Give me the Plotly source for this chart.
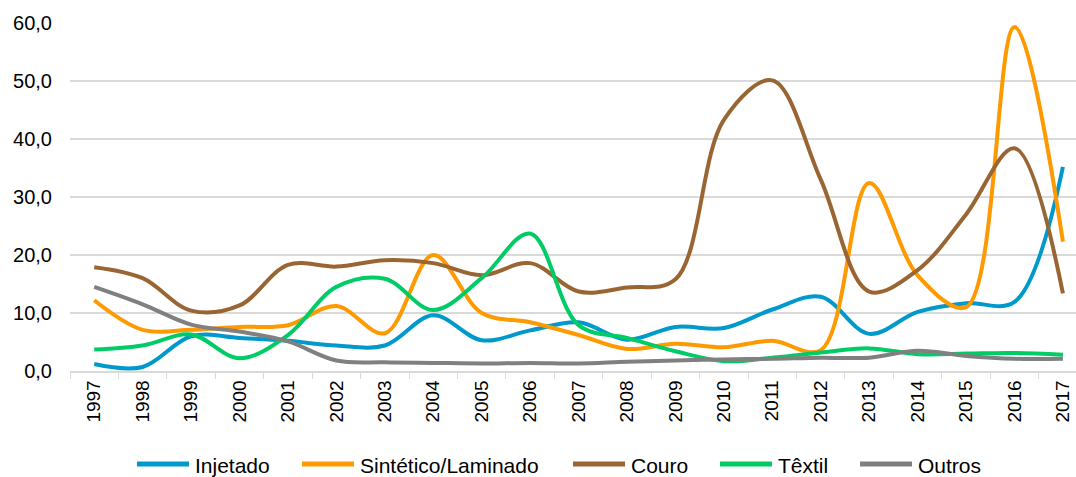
import plotly.graph_objects as go

# Anos (categorias do eixo x)
anos = [str(a) for a in range(1997, 2018)]

injetado = [1.2, 0.7, 6.0, 5.7, 5.2, 4.4, 4.4, 9.6, 5.3, 7.0, 8.4, 5.4, 7.6, 7.4, 10.6, 12.8, 6.4, 10.2, 11.7, 11.9, 35.2]
sintetico = [12.2, 7.1, 7.1, 7.6, 7.9, 11.2, 6.5, 20.0, 10.0, 8.4, 6.2, 3.8, 4.7, 4.1, 5.2, 3.6, 32.4, 16.5, 11.0, 59.3, 22.3]
couro = [17.9, 16.0, 10.4, 11.3, 18.3, 18.0, 19.1, 18.6, 16.5, 18.6, 13.7, 14.4, 15.8, 43.3, 50.1, 33.0, 13.7, 17.4, 27.0, 38.4, 13.4]
textil = [3.7, 4.4, 6.3, 2.2, 6.2, 14.5, 15.9, 10.5, 16.0, 23.7, 7.9, 5.7, 3.4, 1.7, 2.3, 3.2, 3.9, 2.9, 3.0, 3.1, 2.8]
outros = [14.5, 11.5, 8.0, 6.8, 5.1, 1.8, 1.5, 1.4, 1.3, 1.4, 1.3, 1.6, 1.8, 2.0, 2.1, 2.3, 2.3, 3.5, 2.6, 2.1, 2.1]

series = [
    ("Injetado", injetado, "#0099CC"),
    ("Sintético/Laminado", sintetico, "#FF9900"),
    ("Couro", couro, "#996633"),
    ("Têxtil", textil, "#00CC66"),
    ("Outros", outros, "#808080"),
]

# legenda desenhada à mão (traços longos como no Excel), posição em px
LEG_X = [135, 300, 571, 718, 858]
LEG_Y = 464
LEG_LEN = 56

W, H = 1076, 477
ML, MT, MB = 70, 23, 106
PW, PH = W - ML, H - MT - MB


def px_x(x):
    return (x - ML) / PW


def px_y(y):
    return (H - MB - y) / PH


fig = go.Figure()
for (nome, valores, cor), lx in zip(series, LEG_X):
    fig.add_trace(go.Scatter(
        x=anos, y=valores, name=nome, mode="lines", showlegend=False,
        line=dict(color=cor, width=4, shape="spline", smoothing=1.0),
    ))
    fig.add_shape(type="line", xref="paper", yref="paper",
                  x0=px_x(lx + 2), x1=px_x(lx + LEG_LEN - 2), y0=px_y(LEG_Y), y1=px_y(LEG_Y),
                  line=dict(color=cor, width=5))
    fig.add_annotation(text=nome, xref="paper", yref="paper",
                       x=px_x(lx + LEG_LEN + 2), y=px_y(LEG_Y + 1), xanchor="left", yanchor="middle",
                       showarrow=False, font=dict(size=21, color="#000000"))

fig.update_layout(
    width=W, height=H,
    paper_bgcolor="white", plot_bgcolor="white",
    font=dict(family="Liberation Sans, Arial, sans-serif", size=19, color="#000000"),
    margin=dict(l=ML, r=0, t=MT, b=MB, autoexpand=False),
    showlegend=False,
    xaxis=dict(
        type="category", range=[-0.5, 20.27], automargin=False,
        tickangle=-90, tickfont=dict(size=19),
        showgrid=False, showline=True, linecolor="#D9D9D9", linewidth=1.5,
        ticks="outside", tickson="boundaries", ticklen=6, tickcolor="#D9D9D9",
    ),
    yaxis=dict(
        range=[0, 60], dtick=10, tickformat=".1f", automargin=False,
        tickfont=dict(size=20),
        showgrid=True, gridcolor="#D9D9D9", gridwidth=1.5,
        zeroline=False, showline=False, ticks="", ticklabelstandoff=17,
    ),
    separators=",.",
)

# sem margem da página, para a figura ocupar a janela inteira
fig.write_html("out.html", config={"displayModeBar": False},
               post_script="document.body.style.margin='0';")
